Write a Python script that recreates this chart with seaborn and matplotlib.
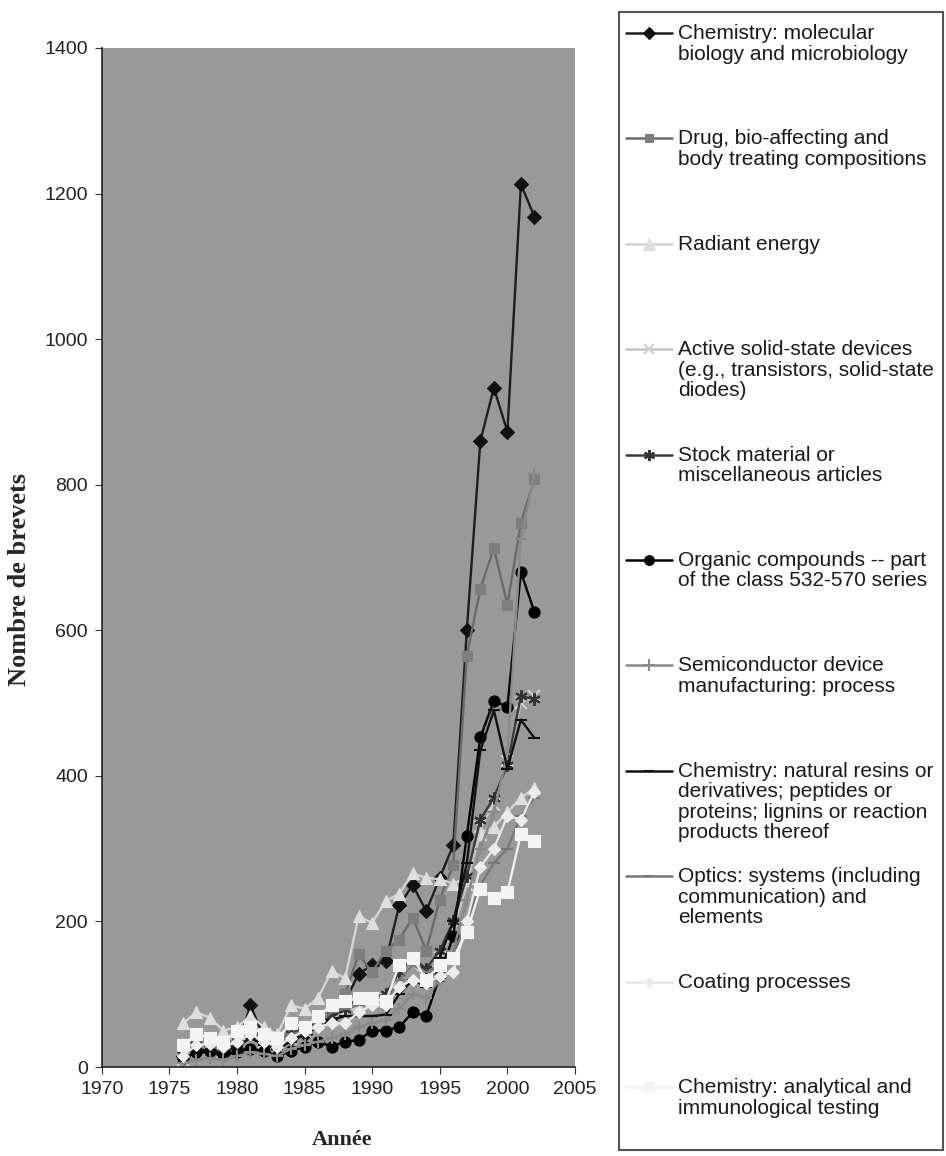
import numpy as np
import pandas as pd
import seaborn as sns
import matplotlib.pyplot as plt
from matplotlib.patches import Rectangle
from matplotlib.lines import Line2D

# Data
years = list(range(1976, 2003))

mol_bio = [15, 20, 22, 18, 25, 85, 40, 30, 40, 45, 60, 70, 90, 128, 140, 145,
           222, 250, 214, 260, 305, 600, 860, 933, 873, 1213, 1168]
drug = [30, 40, 35, 30, 40, 60, 35, 30, 50, 55, 70, 80, 100, 155, 130, 160,
        175, 205, 160, 230, 278, 565, 657, 713, 635, 748, 808]
radiant = [60, 75, 68, 50, 55, 70, 55, 45, 85, 80, 95, 132, 122, 207, 198, 228,
           238, 266, 260, 258, 252, 260, 320, 330, 350, 370, 383]
active = [10, 25, 30, 20, 30, 45, 35, 25, 40, 50, 60, 65, 75, 85, 90, 95,
          120, 140, 125, 150, 190, 250, 330, 360, 420, 500, 510]
stock = [20, 30, 28, 25, 35, 50, 40, 30, 45, 55, 65, 70, 80, 95, 95, 100,
         130, 150, 135, 160, 200, 262, 340, 370, 415, 510, 505]
organic = [12, 20, 22, 18, 20, 25, 22, 15, 22, 28, 35, 28, 35, 37, 50, 50,
           55, 75, 70, 125, 180, 318, 453, 503, 495, 680, 625]
semicond = [5, 10, 12, 10, 15, 20, 18, 15, 25, 30, 35, 40, 45, 55, 60, 65,
            80, 100, 95, 120, 160, 230, 300, 350, 430, 725, 815]
resins = [20, 25, 22, 20, 28, 40, 30, 25, 35, 45, 55, 65, 70, 70, 70, 72,
          100, 120, 110, 150, 200, 280, 435, 490, 410, 477, 452]
optics = [25, 30, 28, 25, 35, 45, 38, 30, 45, 50, 60, 75, 80, 85, 95, 90,
          120, 140, 130, 140, 155, 200, 250, 280, 300, 345, 370]
coating = [15, 30, 32, 28, 35, 45, 35, 28, 40, 50, 55, 60, 60, 75, 85, 85,
           110, 120, 115, 125, 130, 200, 275, 300, 345, 340, 378]
analytical = [30, 45, 40, 35, 50, 55, 45, 40, 60, 55, 70, 85, 90, 95, 95, 90,
              140, 150, 120, 140, 150, 185, 245, 232, 240, 320, 310]

labels = [
    "Chemistry: molecular\nbiology and microbiology",
    "Drug, bio-affecting and\nbody treating compositions",
    "Radiant energy",
    "Active solid-state devices\n(e.g., transistors, solid-state\ndiodes)",
    "Stock material or\nmiscellaneous articles",
    "Organic compounds -- part\nof the class 532-570 series",
    "Semiconductor device\nmanufacturing: process",
    "Chemistry: natural resins or\nderivatives; peptides or\nproteins; lignins or reaction\nproducts thereof",
    "Optics: systems (including\ncommunication) and\nelements",
    "Coating processes",
    "Chemistry: analytical and\nimmunological testing",
]
series = [mol_bio, drug, radiant, active, stock, organic, semicond, resins,
          optics, coating, analytical]

# style per series: line colour, marker, marker face, marker edge, size
styles = [
    ("#1e1e1e", "D", "#111111", "#111111", 7),
    ("#6a6a6a", "s", "#7e7e7e", "#7e7e7e", 7),
    ("#d4d4d4", "^", "#dedede", "#dedede", 9),
    ("#c4c4c4", "x", "#d0d0d0", "#d0d0d0", 8),
    ("#3a3a3a", (6, 2, 0), "#333333", "#333333", 9),
    ("#000000", "o", "#000000", "#000000", 8),
    ("#8a8a8a", "+", "#8a8a8a", "#8a8a8a", 9),
    ("#111111", "_", "#111111", "#111111", 8),
    ("#777777", "_", "#777777", "#777777", 8),
    ("#e6e6e6", "D", "#ececec", "#ececec", 6),
    ("#f0f0f0", "s", "#f4f4f4", "#f4f4f4", 8),
]


def edge_width(mk):
    return 1.5 if mk in ("x", "+", "_") or isinstance(mk, tuple) else 0.8


sns.set_style("white")
plt.rcParams["font.family"] = ["Liberation Sans", "DejaVu Sans"]

fig = plt.figure(figsize=(9.46, 11.56), dpi=100)
ax = fig.add_axes([101.7 / 946, 1 - 1067 / 1156, (575 - 101.7) / 946, (1067 - 48) / 1156])
ax.set_facecolor("#999999")

for lab, vals, st in zip(labels, series, styles):
    df = pd.DataFrame({"Année": years, "n": vals})
    lc, mk, mf, me, ms = st
    sns.lineplot(data=df, x="Année", y="n", ax=ax, color=lc, lw=1.7,
                 marker=mk, markersize=ms, markerfacecolor=mf,
                 markeredgecolor=me, markeredgewidth=edge_width(mk))

ax.set_xlim(1970, 2005)
ax.set_ylim(0, 1400)
ax.set_xticks(range(1970, 2006, 5))
ax.set_yticks(range(0, 1401, 200))
ax.tick_params(axis="both", labelsize=14, length=5, direction="out", color="#333333",
               labelcolor="#222222", left=True, bottom=True, pad=5)
for s in ["top", "right"]:
    ax.spines[s].set_visible(False)
for s in ["left", "bottom"]:
    ax.spines[s].set_color("#222222")
    ax.spines[s].set_linewidth(1.2)
ax.set_xlabel("")
ax.set_ylabel("")

fig.text(20 / 946, 1 - 580 / 1156, "Nombre de brevets", rotation=90, ha="center", va="center",
         fontsize=19, fontweight="bold", family=["Liberation Serif", "DejaVu Serif"])
fig.text(342 / 946, 1 - 1140 / 1156, "Année", ha="center", va="center",
         fontsize=16, fontweight="bold", family=["Liberation Serif", "DejaVu Serif"])

# legend drawn in its own box, in pixel coordinates
lax = fig.add_axes([0, 0, 1, 1], facecolor="none")
lax.set_xlim(0, 946)
lax.set_ylim(1156, 0)
lax.axis("off")
lax.add_patch(Rectangle((619, 12), 324, 1138, fill=False, ec="#555555", lw=1.5))
for i, (lab, st) in enumerate(zip(labels, styles)):
    y = 33 + i * 105.4
    lc, mk, mf, me, ms = st
    lax.add_line(Line2D([626, 649, 672], [y, y, y], color=lc, lw=1.8, marker=mk,
                        markevery=[1], markersize=ms - 1, markerfacecolor=mf,
                        markeredgecolor=me, markeredgewidth=edge_width(mk)))
    lax.text(678, y - 9, lab, ha="left", va="top", fontsize=15, linespacing=1.1,
             color="#1a1a1a")

fig.savefig("out.png", dpi=100)
